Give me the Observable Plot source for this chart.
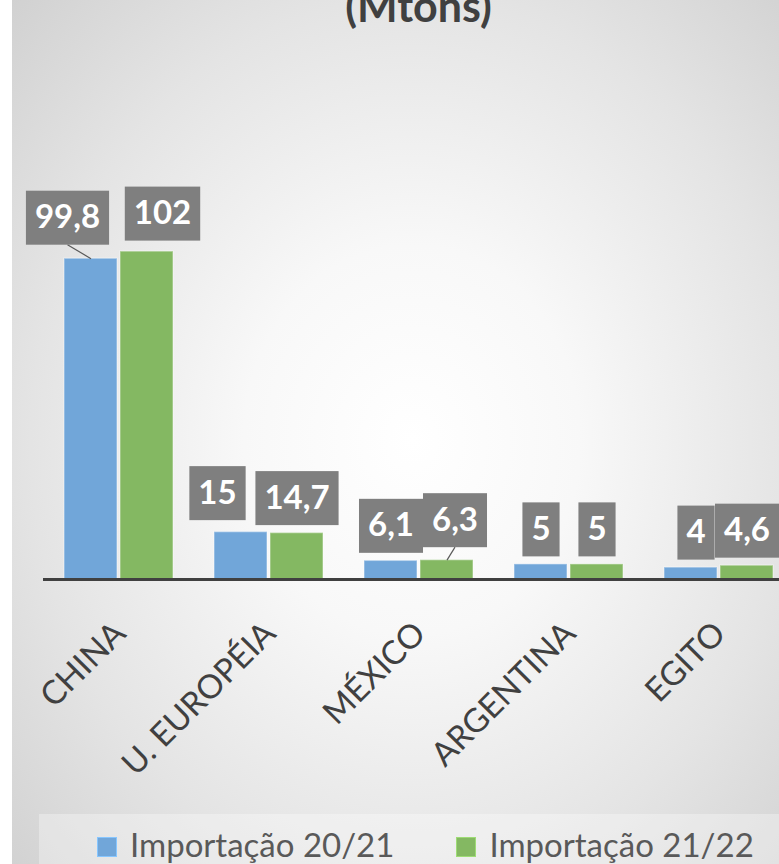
<!DOCTYPE html>
<html>
<head>
<meta charset="utf-8">
<script src="https://cdn.jsdelivr.net/npm/d3@7"></script>
<script src="https://cdn.jsdelivr.net/npm/@observablehq/plot@0.6"></script>
<style>
  html, body { margin: 0; padding: 0; background: #ffffff; }
  #stage { position: relative; width: 779px; height: 864px; overflow: hidden; font-family: Lato, sans-serif; }
  #bg { position: absolute; left: 12px; top: 0; width: 767px; height: 864px;
        background: radial-gradient(ellipse 560px 650px at 400px 440px, #ffffff 0%, #f8f8f8 30%, #e4e4e4 68%, #d0d0d0 100%); }
  #title { position: absolute; left: 418.5px; top: -16px; transform: translateX(-50%);
           font: 700 43px/43px Lato, sans-serif; color: #404040; white-space: nowrap; }
  #chart { position: absolute; left: 0; top: 0; }
  #legendband { position: absolute; left: 39px; top: 814px; right: 0; bottom: 0; background: rgba(255,255,255,0.32); }
  #legend { position: absolute; left: 97px; top: 828px; display: flex; gap: 62px;
            font: 400 33px/33px Lato, sans-serif; color: #595959; white-space: nowrap; }
  .sw { display: inline-block; width: 20px; height: 20px; margin-right: 13px; vertical-align: baseline; box-sizing: border-box; }
</style>
</head>
<body>
<div id="stage">
  <div id="bg"></div>
  <div id="title">(Mtons)</div>
  <div id="chart"></div>
  <div id="legendband"></div>
  <div id="legend"></div>
</div>
<script>
// ---- data ----
const categories = ["CHINA", "U. EUROPÉIA", "MÉXICO", "ARGENTINA", "EGITO"];
const series = ["Importação 20/21", "Importação 21/22"];
const import2021 = [99.8, 15, 6.1, 5, 4];
const import2122 = [102, 14.7, 6.3, 5, 4.6];
const colors = ["#71a6d9", "#84b862"];

// ---- table built from the arrays ----
const rows = categories.flatMap((c, i) => [
  {category: c, series: series[0], value: import2021[i]},
  {category: c, series: series[1], value: import2122[i]}
]);
const fmt = v => String(v).replace(".", ",");

// ---- label layout (manual placements, as in the original) ----
const baseDy = -35;
const labelNudge = {
  "CHINA|Importação 20/21": {dx: -23.5, dy: -6, leader: true},
  "CHINA|Importação 21/22": {dx: 15.5, dy: -3},
  "U. EUROPÉIA|Importação 20/21": {dx: -23.5, dy: -4},
  "MÉXICO|Importação 21/22": {dx: 8, dy: -5, leader: true},
  "EGITO|Importação 20/21": {dx: 5, dy: 0}
};
const keyOf = d => d.category + "|" + d.series;

const labelCommon = {
  fx: "category", x: "series", y: "value", text: d => fmt(d.value),
  fill: "white", fontWeight: 700, fontSize: 33, fontFamily: "Lato, sans-serif",
  lineAnchor: "middle", textAnchor: "middle"
};
const nudgeList = [];
const labelMarks = [
  Plot.text(rows.filter(d => !labelNudge[keyOf(d)]), {...labelCommon, dy: baseDy, ariaDescription: "datalabel"})
];
for (const d of rows) {
  const n = labelNudge[keyOf(d)];
  if (!n) continue;
  const idx = nudgeList.length;
  nudgeList.push({dx: n.dx, dy: baseDy + n.dy, leader: !!n.leader});
  labelMarks.push(Plot.text([d], {...labelCommon, dx: n.dx, dy: baseDy + n.dy, ariaDescription: "datalabel nudge" + idx}));
}

const chart = Plot.plot({
  width: 779,
  height: 800,
  marginTop: 0, marginBottom: 0, marginLeft: 0, marginRight: 0,
  style: {background: "transparent", overflow: "visible"},
  fx: {domain: categories, range: [43.5, 793.5], paddingInner: 0.26, paddingOuter: 0.13, axis: null, label: null},
  x: {domain: series, paddingInner: 0.0526, paddingOuter: 0, axis: null, label: null},
  y: {domain: [0, 100], range: [580, 257.55], axis: null, label: null},
  color: {domain: series, range: colors},
  marks: [
    Plot.barY(rows, {fx: "category", x: "series", y: "value", fill: "series",
                     stroke: "white", strokeOpacity: 0.35, strokeWidth: 1.5}),
    Plot.ruleY([0], {stroke: "#404040", strokeWidth: 3, insetLeft: -20, insetRight: -20, dy: -1}),
    Plot.text(categories, {fx: d => d, y: () => 0, text: d => d, rotate: -45,
                           textAnchor: "end", lineAnchor: "bottom", dx: 8.5, dy: 55,
                           fontSize: 33, fontFamily: "Lato, sans-serif", fill: "#404040"}),
    ...labelMarks
  ]
});
document.getElementById("chart").appendChild(chart);

// ---- grey boxes behind data labels, plus leader lines ----
const NS = "http://www.w3.org/2000/svg";
chart.querySelectorAll('g[aria-description^="datalabel"]').forEach(g => {
  const desc = g.getAttribute("aria-description");
  const m = desc.match(/nudge(\d+)/);
  const nudge = m ? nudgeList[+m[1]] : null;
  g.querySelectorAll("text").forEach(t => {
    const bb = t.getBBox();
    const tr = t.getAttribute("transform");
    const r = document.createElementNS(NS, "rect");
    if (tr) r.setAttribute("transform", tr);
    r.setAttribute("x", bb.x - 9);
    r.setAttribute("width", bb.width + 18);
    r.setAttribute("y", -27);
    r.setAttribute("height", 54);
    r.setAttribute("fill", "#7f7f7f");
    t.parentNode.insertBefore(r, t);
    if (nudge && nudge.leader) {
      const l = document.createElementNS(NS, "line");
      if (tr) l.setAttribute("transform", tr);
      l.setAttribute("x1", 0); l.setAttribute("y1", 27);
      l.setAttribute("x2", -nudge.dx); l.setAttribute("y2", -nudge.dy);
      l.setAttribute("stroke", "#595959"); l.setAttribute("stroke-width", 1.2);
      t.parentNode.insertBefore(l, r);
    }
  });
});

// ---- legend from the series / colors ----
const legend = d3.select("#legend");
series.forEach((s, i) => {
  const item = legend.append("span");
  item.append("span").attr("class", "sw")
    .style("background", colors[i])
    .style("border", "1px solid " + d3.color(colors[i]).brighter(0.5));
  item.append("span").text(s);
});
</script>
</body>
</html>
